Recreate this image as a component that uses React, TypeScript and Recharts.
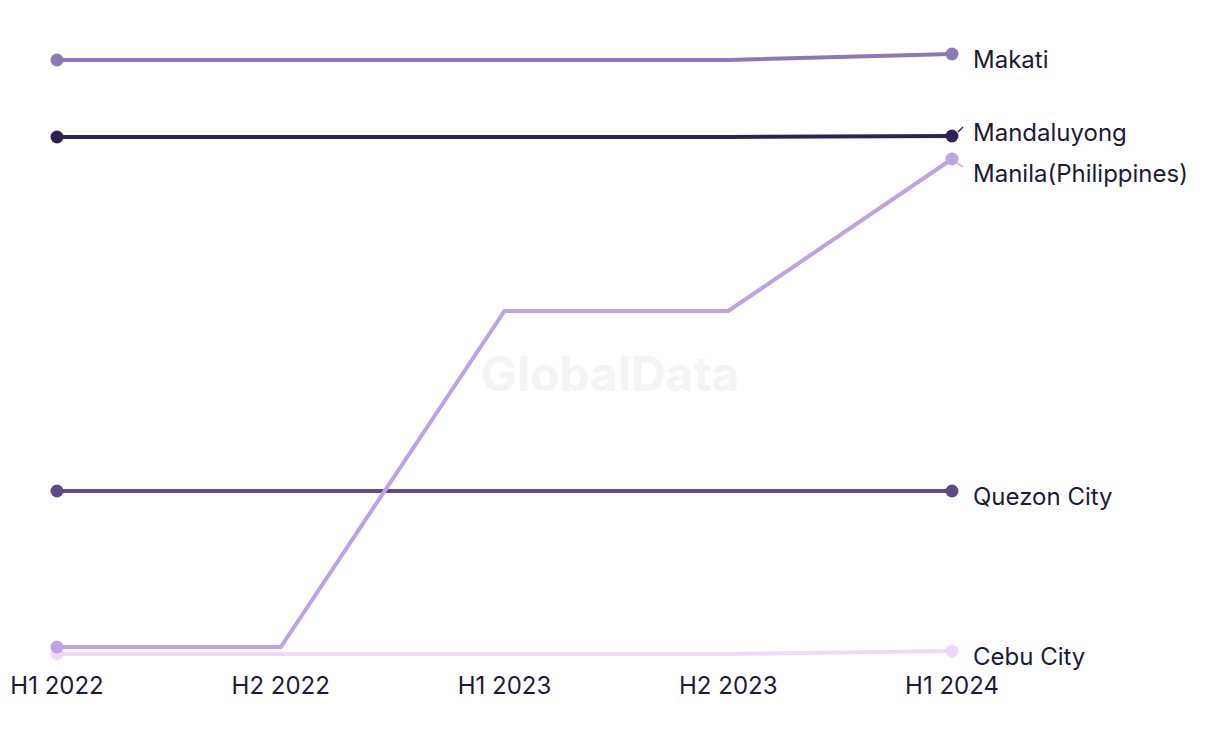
import React from "react";
import { LineChart, Line, XAxis, YAxis } from "recharts";

// periods on the x axis
const periods = ["H1 2022", "H2 2022", "H1 2023", "H2 2023", "H1 2024"];

// series values (arbitrary units)
const makati = [595, 595, 595, 595, 601];
const mandaluyong = [518, 518, 518, 518, 519];
const manila = [8, 8, 344, 344, 496];
const quezonCity = [164, 164, 164, 164, 164];
const cebuCity = [1, 1, 1, 1, 4];

const rows = periods.map((period, i) => ({
  period,
  makati: makati[i],
  mandaluyong: mandaluyong[i],
  manila: manila[i],
  quezonCity: quezonCity[i],
  cebuCity: cebuCity[i],
}));

const FONT = "Inter, 'Liberation Sans', sans-serif";
const TEXT = "#1d1a33";
const LAST = periods.length - 1;

interface SeriesDef {
  key: string;
  name: string;
  color: string;
  dy: number;
  leader?: [number, number, number, number];
}

// drawing order matters: later ones sit on top
const series: SeriesDef[] = [
  { key: "cebuCity", name: "Cebu City", color: "#f0d9f8", dy: 6 },
  { key: "quezonCity", name: "Quezon City", color: "#5d4a87", dy: 6 },
  { key: "makati", name: "Makati", color: "#8d78b6", dy: 6 },
  { key: "mandaluyong", name: "Mandaluyong", color: "#2f2252", dy: -3, leader: [6, -4, 11, -9] },
  { key: "manila", name: "Manila(Philippines)", color: "#bea3e4", dy: 15, leader: [5, 4, 11, 8] },
];

const makeDot = (color: string) => (props: any) => {
  const { cx, cy, index } = props;
  if (index !== 0 && index !== LAST) return <g key={`d${index}`} />;
  return <circle key={`d${index}`} cx={cx} cy={cy} r={6.5} fill={color} />;
};

const makeLabel = (s: SeriesDef) => (props: any) => {
  const { x, y, index } = props;
  if (index !== LAST) return <g key={`l${index}`} />;
  return (
    <g key={`l${index}`}>
      {s.leader && (
        <line
          x1={x + s.leader[0]}
          y1={y + s.leader[1]}
          x2={x + s.leader[2]}
          y2={y + s.leader[3]}
          stroke={s.color}
          strokeWidth={1.5}
        />
      )}
      <text
        x={x + 21}
        y={y + s.dy}
        dy="0.35em"
        fill={TEXT}
        fontSize={24}
        fontFamily={FONT}
        textAnchor="start"
      >
        {s.name}
      </text>
    </g>
  );
};

export default function App() {
  return (
    <div
      style={{
        position: "absolute",
        left: 0,
        top: 0,
        width: 1220,
        height: 744,
        background: "#fff",
      }}
    >
      {/* watermark, sits behind the lines */}
      <div
        style={{
          position: "absolute",
          left: 0,
          top: 344,
          width: 1220,
          textAlign: "center",
          fontFamily: FONT,
          fontWeight: 700,
          fontSize: 48,
          color: "#f4f4f6",
        }}
      >
        GlobalData
      </div>
      <div style={{ position: "absolute", left: 0, top: 0 }}>
        <LineChart
          width={1220}
          height={744}
          data={rows}
          margin={{ top: 54, right: 268, left: 57, bottom: 59 }}
        >
          <XAxis
            dataKey="period"
            axisLine={false}
            tickLine={false}
            tickMargin={16}
            interval={0}
            tick={{ fill: TEXT, fontSize: 24, fontFamily: FONT }}
          />
          <YAxis hide domain={[0, 601]} />
          {series.map((s) => (
            <Line
              key={s.key}
              dataKey={s.key}
              name={s.name}
              type="linear"
              stroke={s.color}
              strokeWidth={4}
              dot={makeDot(s.color)}
              activeDot={false}
              label={makeLabel(s)}
              isAnimationActive={false}
            />
          ))}
        </LineChart>
      </div>
    </div>
  );
}
